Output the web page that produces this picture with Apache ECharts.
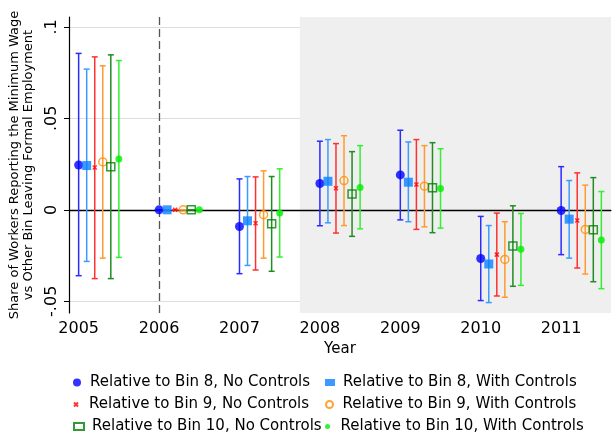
<!DOCTYPE html>
<html>
<head>
<meta charset="utf-8">
<script src="https://cdn.jsdelivr.net/npm/echarts@6/dist/echarts.min.js"></script>
<style>
  html, body { margin: 0; padding: 0; background: #fff; }
  #chart { width: 616px; height: 432px; }
</style>
</head>
<body>
<div id="chart"></div>
<script>
// years on the x axis and the offset of each estimate within a year
const years = [2005, 2006, 2007, 2008, 2009, 2010, 2011];
const offsets = [0, 0.1, 0.2, 0.3, 0.4, 0.5];
const yTicks = [-0.05, 0, 0.05, 0.1];
const yTickLabels = ['-.05', '0', '.05', '.1'];

// point estimates
const bin8NoCtrl = [0.0245, 0, -0.0091, 0.0144, 0.0191, -0.0266, -0.0004];
const bin8Ctrl = [0.0242, 0, -0.0060, 0.0156, 0.0151, -0.0296, -0.0051];
const bin9NoCtrl = [0.0231, 0, -0.0073, 0.0118, 0.0138, -0.0245, -0.0058];
const bin9Ctrl = [0.0262, 0, -0.0027, 0.0160, 0.0129, -0.0271, -0.0107];
const bin10NoCtrl = [0.0236, 0, -0.0076, 0.0086, 0.0120, -0.0198, -0.0109];
const bin10Ctrl = [0.0278, 0, -0.0018, 0.0122, 0.0116, -0.0216, -0.0165];

// confidence interval bounds
const bin8NoCtrlLo = [-0.0360, 0, -0.0349, -0.0087, -0.0055, -0.0496, -0.0245];
const bin8NoCtrlHi = [0.0855, 0, 0.0169, 0.0375, 0.0435, -0.0036, 0.0236];
const bin8CtrlLo = [-0.0282, 0, -0.0304, -0.0071, -0.0065, -0.0507, -0.0264];
const bin8CtrlHi = [0.0769, 0, 0.0182, 0.0384, 0.0371, -0.0086, 0.0160];
const bin9NoCtrlLo = [-0.0376, 0, -0.0329, -0.0127, -0.0107, -0.0471, -0.0318];
const bin9NoCtrlHi = [0.0836, 0, 0.0180, 0.0362, 0.0384, -0.0018, 0.0202];
const bin9CtrlLo = [-0.0264, 0, -0.0264, -0.0086, -0.0093, -0.0478, -0.0351];
const bin9CtrlHi = [0.0787, 0, 0.0213, 0.0405, 0.0351, -0.0065, 0.0135];
const bin10NoCtrlLo = [-0.0376, 0, -0.0336, -0.0145, -0.0125, -0.0418, -0.0393];
const bin10NoCtrlHi = [0.0847, 0, 0.0182, 0.0318, 0.0367, 0.0022, 0.0176];
const bin10CtrlLo = [-0.0260, 0, -0.0258, -0.0104, -0.0100, -0.0413, -0.0431];
const bin10CtrlHi = [0.0816, 0, 0.0224, 0.0351, 0.0334, -0.0020, 0.0100];

const font = 'DejaVu Sans';

const groups = [
  { name: 'Relative to Bin 8, No Controls', est: bin8NoCtrl, lo: bin8NoCtrlLo, hi: bin8NoCtrlHi,
    bar: '#2b2bff', symbol: 'circle', size: 9, icon: 8, style: { color: '#0000ff' } },
  { name: 'Relative to Bin 8, With Controls', est: bin8Ctrl, lo: bin8CtrlLo, hi: bin8CtrlHi,
    bar: '#3c9bff', symbol: 'rect', size: 9, icon: 7, style: { color: '#0a80ff' } },
  { name: 'Relative to Bin 9, No Controls', est: bin9NoCtrl, lo: bin9NoCtrlLo, hi: bin9NoCtrlHi,
    bar: '#ff3030', symbol: 'path://M0,0L10,10M10,0L0,10', size: 4, icon: 4,
    style: { color: 'rgba(0,0,0,0)', borderColor: '#ff0000', borderWidth: 1.5 } },
  { name: 'Relative to Bin 9, With Controls', est: bin9Ctrl, lo: bin9CtrlLo, hi: bin9CtrlHi,
    bar: '#ff9a2e', symbol: 'circle', size: 8, icon: 7,
    style: { color: 'rgba(0,0,0,0)', borderColor: '#ff8c00', borderWidth: 1.5 } },
  { name: 'Relative to Bin 10, No Controls', est: bin10NoCtrl, lo: bin10NoCtrlLo, hi: bin10NoCtrlHi,
    bar: '#228b22', symbol: 'rect', size: 8, icon: 7,
    style: { color: 'rgba(0,0,0,0)', borderColor: '#008000', borderWidth: 1.5 } },
  { name: 'Relative to Bin 10, With Controls', est: bin10Ctrl, lo: bin10CtrlLo, hi: bin10CtrlHi,
    bar: '#33ee33', symbol: 'circle', size: 7, icon: 5, style: { color: '#00ee00' } }
];

const series = [
  {
    // shaded period, zero line and the dashed reference year
    type: 'scatter',
    name: 'refs',
    data: [],
    z: 1,
    silent: true,
    markArea: {
      silent: true,
      itemStyle: { color: '#efefef' },
      data: [[{ xAxis: 2007.75 }, { xAxis: 2011.62 }]]
    },
    markLine: {
      silent: true,
      symbol: 'none',
      label: { show: false },
      data: [
        { yAxis: 0, lineStyle: { color: '#000', width: 1.3, type: 'solid' } },
        { xAxis: 2006, lineStyle: { color: '#555', width: 1.3, type: [8, 4] } }
      ]
    }
  }
];

groups.forEach((g, i) => {
  series.push({
    type: 'custom',
    name: g.name + ' CI',
    z: 6,
    silent: true,
    data: years.map((y, k) => [y + offsets[i], g.lo[k], g.hi[k]]),
    renderItem: (params, api) => {
      const top = api.coord([api.value(0), api.value(2)]);
      const bot = api.coord([api.value(0), api.value(1)]);
      const cap = 3;
      const st = { stroke: g.bar, lineWidth: 1.5 };
      return {
        type: 'group',
        children: [
          { type: 'line', shape: { x1: top[0], y1: top[1], x2: bot[0], y2: bot[1] }, style: st },
          { type: 'line', shape: { x1: top[0] - cap, y1: top[1], x2: top[0] + cap, y2: top[1] }, style: st },
          { type: 'line', shape: { x1: bot[0] - cap, y1: bot[1], x2: bot[0] + cap, y2: bot[1] }, style: st }
        ]
      };
    }
  });
  series.push({
    type: 'scatter',
    name: g.name,
    z: 7,
    symbol: g.symbol,
    symbolSize: g.size,
    itemStyle: g.style,
    data: years.map((y, k) => [y + offsets[i], g.est[k]])
  });
});

const legendPos = [
  [73, 375], [325, 375],
  [73, 397], [325, 397],
  [73, 419], [325, 419]
];
const legends = groups.map((g, i) => ({
  data: [g.name],
  left: legendPos[i][0],
  top: legendPos[i][1],
  padding: 0,
  itemWidth: 10,
  itemHeight: g.icon,
  selectedMode: false,
  textStyle: { fontFamily: font, fontSize: 15, color: '#000', padding: [0, 0, 0, 3] }
}));

const chart = echarts.init(document.getElementById('chart'));
chart.setOption({
  animation: false,
  backgroundColor: '#fff',
  grid: { left: 66, right: 5, top: 17, bottom: 119 },
  legend: legends,
  xAxis: {
    type: 'value',
    min: 2004.88,
    max: 2011.62,
    name: 'Year',
    nameLocation: 'middle',
    nameGap: 28,
    nameTextStyle: { fontFamily: font, fontSize: 15, color: '#000' },
    axisLine: { show: true, lineStyle: { color: '#000', width: 1.2 } },
    axisTick: { show: true, length: 5, customValues: years, lineStyle: { color: '#000' } },
    axisLabel: {
      customValues: years,
      fontFamily: font,
      fontSize: 16,
      color: '#000',
      margin: 8,
      formatter: (v) => String(Math.round(v))
    },
    splitLine: { show: false }
  },
  yAxis: {
    type: 'value',
    min: -0.0564,
    max: 0.1054,
    name: 'Share of Workers Reporting the Minimum Wage\nvs Other Bin Leaving Formal Employment',
    nameLocation: 'middle',
    nameGap: 33,
    nameTextStyle: { fontFamily: font, fontSize: 13, color: '#000', lineHeight: 14 },
    axisLine: { show: true, lineStyle: { color: '#000', width: 1.2 } },
    axisTick: { show: true, length: 5, customValues: yTicks, lineStyle: { color: '#000' } },
    axisLabel: {
      customValues: yTicks,
      rotate: 90,
      fontFamily: font,
      fontSize: 16,
      color: '#000',
      margin: 9,
      formatter: (v) => yTickLabels[yTicks.findIndex((t) => Math.abs(t - v) < 1e-9)]
    },
    splitLine: { show: true, lineStyle: { color: '#dddddd', width: 1.2 } }
  },
  series: series
});
</script>
</body>
</html>
